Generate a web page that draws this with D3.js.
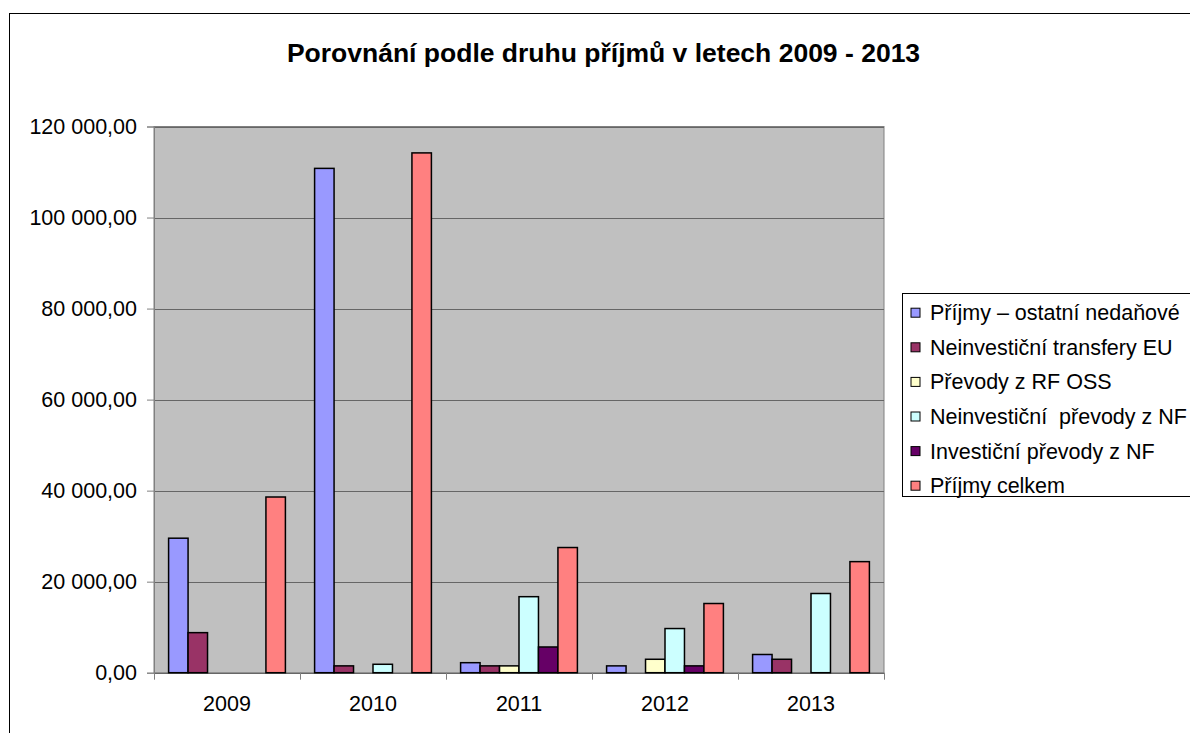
<!DOCTYPE html>
<html>
<head>
<meta charset="utf-8">
<script src="https://cdn.jsdelivr.net/npm/d3@7"></script>
<style>
  body { margin: 0; background: #fff; }
  text { font-family: "Liberation Sans", Arial, sans-serif; white-space: pre; }
</style>
</head>
<body>
<div id="chart-area"></div>
<script>
const years = ["2009", "2010", "2011", "2012", "2013"];
const seriesNames = [
	"Příjmy – ostatní nedaňové",
	"Neinvestiční transfery EU",
	"Převody z RF OSS",
	"Neinvestiční  převody z NF",
	"Investiční převody z NF",
	"Příjmy celkem"
];
const ostatniNedanove = [29550, 110800, 2200, 1500, 4000];
const transferyEU = [8800, 1500, 1500, 0, 2950];
const prevodyRF = [0, 0, 1500, 2950, 0];
const neinvPrevodyNF = [0, 1850, 16700, 9700, 17400];
const invPrevodyNF = [0, 0, 5650, 1500, 0];
const prijmyCelkem = [38600, 114200, 27500, 15200, 24400];
const yTicks = [0, 20000, 40000, 60000, 80000, 100000, 120000];
const colors = ["#9999FF", "#993366", "#FFFFCC", "#CCFFFF", "#660066", "#FF8080"];

const values = [ostatniNedanove, transferyEU, prevodyRF, neinvPrevodyNF, invPrevodyNF, prijmyCelkem];

const svg = d3.select("#chart-area").append("svg")
	.attr("width", 1190)
	.attr("height", 733);

// outer chart frame (runs off the right and bottom)
svg.append("rect")
	.attr("x", 9.5).attr("y", 13.5)
	.attr("width", 1200).attr("height", 740)
	.attr("fill", "#fff").attr("stroke", "#000");

svg.append("text")
	.attr("x", 603.5).attr("y", 62)
	.attr("text-anchor", "middle")
	.attr("font-size", 26.5).attr("font-weight", "bold")
	.text("Porovnání podle druhu příjmů v letech 2009 - 2013");

const plotL = 154, plotR = 884, plotT = 126.5, plotB = 672.7;

const x0 = d3.scaleBand()
	.domain(years)
	.range([plotL, plotR]);

const x1 = d3.scaleBand()
	.domain(d3.range(seriesNames.length))
	.range([0, x0.bandwidth()])
	.paddingInner(0)
	.paddingOuter(0.75);

const y = d3.scaleLinear()
	.domain([0, 120000])
	.range([plotB, plotT]);

// plot area
svg.append("rect")
	.attr("x", plotL).attr("y", plotT)
	.attr("width", plotR - plotL).attr("height", plotB - plotT)
	.attr("fill", "#C0C0C0").attr("stroke", "#808080");

svg.selectAll(".grid")
	.data(yTicks)
	.enter()
	.append("line")
	.attr("class", "grid")
	.attr("x1", plotL).attr("x2", plotR)
	.attr("y1", d => Math.round(y(d)) + 0.5)
	.attr("y2", d => Math.round(y(d)) + 0.5)
	.attr("stroke", "#666");

const fmt = d => d3.format(",.2f")(d).replace(/,/g, " ").replace(".", ",");

const yAxis = svg.append("g")
	.attr("transform", `translate(${plotL},0)`)
	.call(d3.axisLeft(y).tickValues(yTicks).tickSize(7).tickPadding(10).tickFormat(fmt));
yAxis.select(".domain").attr("stroke", "#808080");
yAxis.selectAll(".tick line").attr("stroke", "#808080");
yAxis.selectAll("text")
	.attr("font-size", 21.5)
	.attr("fill", "#000")
	.attr("font-family", "Liberation Sans, Arial, sans-serif");

const xAxis = svg.append("g")
	.attr("transform", `translate(0,${plotB})`)
	.call(d3.axisBottom(x0).tickSize(0).tickPadding(23.5));
xAxis.select(".domain").remove();
xAxis.selectAll("text")
	.attr("font-size", 21.5)
	.attr("fill", "#000")
	.attr("font-family", "Liberation Sans, Arial, sans-serif");

// category boundary ticks
svg.selectAll(".xtick")
	.data(years.concat(["end"]))
	.enter()
	.append("line")
	.attr("class", "xtick")
	.attr("x1", (d, i) => plotL + i * x0.step() + 0.5)
	.attr("x2", (d, i) => plotL + i * x0.step() + 0.5)
	.attr("y1", plotB).attr("y2", plotB + 7)
	.attr("stroke", "#808080");

const groups = svg.selectAll(".year")
	.data(years)
	.enter()
	.append("g")
	.attr("class", "year")
	.attr("transform", d => `translate(${x0(d)},0)`);

groups.selectAll(".bar")
	.data((d, i) => values.map((s, k) => ({ k: k, v: s[i] })).filter(e => e.v > 0))
	.enter()
	.append("rect")
	.attr("class", "bar")
	.attr("x", d => x1(d.k))
	.attr("y", d => y(d.v))
	.attr("width", x1.bandwidth())
	.attr("height", d => plotB - y(d.v))
	.attr("fill", d => colors[d.k])
	.attr("stroke", "#000")
	.attr("stroke-width", 1.5);

// legend
const legend = svg.append("g");
legend.append("rect")
	.attr("x", 902.5).attr("y", 293.5)
	.attr("width", 320).attr("height", 203)
	.attr("fill", "#fff").attr("stroke", "#000");

const items = legend.selectAll(".item")
	.data(seriesNames)
	.enter()
	.append("g")
	.attr("class", "item")
	.attr("transform", (d, i) => `translate(0,${312.7 + i * 34.6})`);

items.append("rect")
	.attr("x", 911).attr("y", -4.5)
	.attr("width", 9).attr("height", 9)
	.attr("fill", (d, i) => colors[i])
	.attr("stroke", "#000");

items.append("text")
	.attr("x", 930).attr("y", 7.5)
	.attr("font-size", 21.5)
	.text(d => d);
</script>
</body>
</html>
